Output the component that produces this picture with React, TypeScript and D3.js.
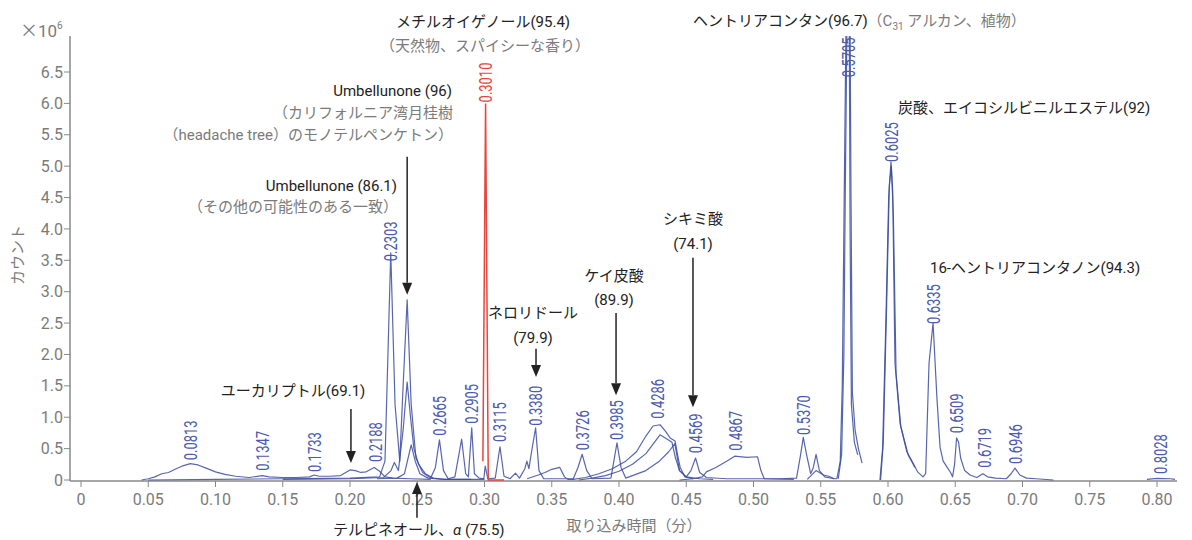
import React from "react";
import * as d3 from "d3";

// x tick values (minutes) and y tick values (counts, x10^6)
const xTicks = d3.range(0, 0.8001, 0.05);
const yTicks = d3.range(0, 6.5001, 0.5);

// chromatogram traces, [retention time, counts x10^6]
const traceHump: [number, number][] = [
  [0.045, 0], [0.05, 0.02], [0.055, 0.05], [0.06, 0.1], [0.065, 0.12], [0.07, 0.17],
  [0.075, 0.22], [0.0813, 0.26], [0.087, 0.24], [0.093, 0.19], [0.1, 0.13], [0.107, 0.09],
  [0.115, 0.06], [0.125, 0.04], [0.1347, 0.07], [0.14, 0.05], [0.15, 0.04], [0.16, 0.04],
  [0.17, 0.05], [0.1733, 0.08], [0.177, 0.06], [0.185, 0.06], [0.193, 0.07], [0.2, 0.16],
  [0.204, 0.15], [0.208, 0.12], [0.212, 0.13], [0.218, 0.2], [0.222, 0.14], [0.226, 0.05],
  [0.232, 0.03], [0.245, 0.02], [0.26, 0.01],
];

const traceMain: [number, number][] = [
  [0.05, 0], [0.1, 0.01], [0.15, 0.02], [0.2, 0.03], [0.222, 0.05], [0.226, 0.3],
  [0.2303, 3.62], [0.2335, 1.2], [0.237, 0.3], [0.2395, 1.5], [0.2425, 2.87], [0.2455, 1.2],
  [0.249, 0.35], [0.254, 0.12], [0.26, 0.03], [0.2635, 0.2], [0.2665, 0.64], [0.2695, 0.15],
  [0.273, 0.02], [0.278, 0.05], [0.283, 0.65], [0.286, 0.1], [0.288, 0.05], [0.2905, 0.83],
  [0.2925, 0.1], [0.296, 0.03], [0.2995, 0.02], [0.3005, 0.22], [0.3025, 0.02], [0.308, 0.03],
  [0.3115, 0.53], [0.3145, 0.06], [0.319, 0.02], [0.323, 0.11], [0.326, 0.03], [0.33, 0.18],
  [0.3315, 0.3], [0.333, 0.18], [0.335, 0.45], [0.338, 0.83], [0.3405, 0.15], [0.344, 0.02],
  [0.366, 0.02], [0.3695, 0.2], [0.3726, 0.41], [0.376, 0.15], [0.38, 0.02], [0.394, 0.03],
  [0.3985, 0.59], [0.4015, 0.2], [0.405, 0.03], [0.42, 0.15], [0.43, 0.3], [0.437, 0.45],
  [0.4415, 0.58], [0.445, 0.15], [0.45, 0.05], [0.4535, 0.15], [0.4569, 0.35], [0.46, 0.12],
  [0.465, 0.04], [0.48, 0.02], [0.52, 0.02], [0.532, 0.03], [0.535, 0.4], [0.537, 0.68],
  [0.5395, 0.4], [0.5425, 0.1], [0.5445, 0.2], [0.5465, 0.41], [0.549, 0.15], [0.553, 0.05],
  [0.56, 0.02], [0.562, 0.02], [0.5645, 0.3], [0.566, 1.5], [0.5672, 4.0], [0.5688, 7.3],
  [0.5718, 7.3], [0.5725, 4.5], [0.5735, 1.4], [0.5755, 0.8], [0.578, 0.5], [0.5807, 0.27],
];

const traceBigPeak: [number, number][] = [
  [0.563, 0.02], [0.5655, 0.4], [0.5672, 2.0], [0.5682, 4.5], [0.5695, 7.3], [0.5712, 7.3],
  [0.5718, 4.0], [0.5728, 1.2], [0.575, 0.6], [0.5775, 0.4],
];

const traceLate: [number, number][] = [
  [0.594, 0], [0.596, 0.5], [0.5985, 2.6], [0.6005, 4.5], [0.6022, 5.07], [0.6035, 4.6],
  [0.6052, 1.86], [0.609, 0.9], [0.614, 0.45], [0.6186, 0.27], [0.622, 0.13], [0.626, 0.05],
  [0.628, 0.1], [0.6305, 1.86], [0.6335, 2.5], [0.6364, 1.3], [0.6387, 0.52], [0.641, 0.3],
  [0.644, 0.2], [0.6465, 0.12], [0.648, 0.05], [0.6495, 0.25], [0.651, 0.67], [0.6525, 0.6],
  [0.654, 0.35], [0.657, 0.15], [0.661, 0.08], [0.666, 0.04], [0.6706, 0.1], [0.674, 0.05],
  [0.68, 0.03], [0.688, 0.02], [0.6915, 0.1], [0.6944, 0.19], [0.698, 0.08], [0.703, 0.03],
  [0.71, 0.02], [0.723, 0],
];

const traceLate2: [number, number][] = [
  [0.5945, 0], [0.5965, 0.6], [0.599, 2.8], [0.601, 4.7], [0.6025, 5.0], [0.604, 4.2],
  [0.606, 1.7], [0.6095, 0.85], [0.615, 0.4], [0.62, 0.2],
];

const traceSecond: [number, number][] = [
  [0.15, 0.01], [0.2, 0.02], [0.225, 0.04], [0.2305, 0.15], [0.233, 0.28], [0.236, 0.15],
  [0.2395, 0.8], [0.2425, 1.56], [0.245, 1.0], [0.2475, 0.5], [0.251, 0.25], [0.256, 0.1],
  [0.262, 0.03], [0.27, 0.01], [0.29, 0.01],
];

const traceThird: [number, number][] = [
  [0.22, 0.02], [0.235, 0.03], [0.2405, 0.1], [0.2455, 0.56], [0.2485, 0.3], [0.252, 0.1],
  [0.258, 0.03], [0.27, 0.01], [0.3, 0.01],
];

const traceBroad1: [number, number][] = [
  [0.3316, 0.02], [0.34, 0.08], [0.345, 0.12], [0.35, 0.17], [0.356, 0.2], [0.3595, 0.05],
  [0.362, 0.01], [0.366, 0.01], [0.375, 0.04], [0.385, 0.1], [0.395, 0.18], [0.405, 0.3],
  [0.413, 0.45], [0.42, 0.7], [0.4253, 0.86], [0.4305, 0.88], [0.4345, 0.78], [0.438, 0.67],
  [0.4417, 0.62], [0.444, 0.35], [0.4455, 0.2], [0.449, 0.05], [0.455, 0.02],
];

const traceBroad2: [number, number][] = [
  [0.37, 0], [0.38, 0.03], [0.39, 0.07], [0.4, 0.14], [0.41, 0.25], [0.42, 0.42],
  [0.4305, 0.72], [0.435, 0.66], [0.4394, 0.6], [0.442, 0.35], [0.445, 0.15], [0.45, 0.05],
  [0.46, 0.02], [0.47, 0.01],
];

const tracePlateau: [number, number][] = [
  [0.445, 0], [0.455, 0.02], [0.462, 0.05], [0.465, 0.13], [0.472, 0.2], [0.48, 0.3],
  [0.486, 0.38], [0.495, 0.36], [0.503, 0.37], [0.5055, 0.15], [0.508, 0.02], [0.53, 0.01],
];

const traceSmall: [number, number][] = [
  [0.54, 0.01], [0.5465, 0.15], [0.552, 0.08], [0.556, 0.06], [0.56, 0.02],
];

const traceTail: [number, number][] = [
  [0.7925, 0.01], [0.8, 0.025], [0.81, 0.02], [0.8134, 0.01],
];

const traceRed: [number, number][] = [
  [0.2988, 0.3], [0.3008, 6.0], [0.3028, 0], [0.3145, 0],
];

const blueTraces = [
  traceHump, traceMain, traceBigPeak, traceLate, traceLate2, traceSecond, traceThird,
  traceBroad1, traceBroad2, tracePlateau, traceSmall, traceTail,
];

// peak labels: retention time and the height where the label starts
const peakTimes = [
  0.0813, 0.1347, 0.1733, 0.2188, 0.2303, 0.2665, 0.2905, 0.3115, 0.338, 0.3726,
  0.3985, 0.4286, 0.4569, 0.4867, 0.537, 0.5705, 0.6025, 0.6335, 0.6509, 0.6719,
  0.6946, 0.8028,
];
const peakLabelY = [
  0.3, 0.13, 0.11, 0.27, 3.47, 0.69, 0.88, 0.59, 0.85, 0.46,
  0.62, 0.96, 0.41, 0.45, 0.7, 6.4, 5.05, 2.47, 0.73, 0.18,
  0.24, 0.08,
];
const redPeak = { t: 0.301, y: 6.0 };

// arrows: time, start height, tip height
const arrows: [number, number, number][] = [
  [0.2425, 5.15, 2.95],
  [0.2007, 1.13, 0.27],
  [0.2498, -0.6, -0.03],
  [0.3383, 2.09, 1.64],
  [0.3978, 2.66, 1.35],
  [0.455, 3.54, 1.16],
];

const W = 1192;
const H = 540;
const BLUE = "#3b4b9f";
const LABEL = "#4a5bb0";
const GREY = "#7b7b7b";
const BLACK = "#222";
const FONT = "Roboto, 'Noto Sans CJK JP', sans-serif";

export default function App() {
  const x = d3.scaleLinear().domain([0, 0.8]).range([81, 1157]);
  const y = d3.scaleLinear().domain([0, 6.5]).range([480, 72]);
  const line = d3
    .line<[number, number]>()
    .x((d) => x(d[0]))
    .y((d) => y(d[1]));

  const axisY = 481;
  const axisX = 70;

  const Arrow = ({ t, y0, y1 }: { t: number; y0: number; y1: number }) => {
    const px = x(t);
    const a = y(y0);
    const b = y(y1);
    const dir = b > a ? 1 : -1;
    const head = 12;
    return (
      <g>
        <line x1={px} y1={a} x2={px} y2={b - dir * head} stroke={BLACK} strokeWidth={1.5} />
        <path
          d={`M${px - 5},${b - dir * head} L${px + 5},${b - dir * head} L${px},${b} Z`}
          fill={BLACK}
        />
      </g>
    );
  };

  return (
    <div style={{ position: "absolute", left: 0, top: 0 }}>
      <svg width={W} height={H} style={{ display: "block", fontFamily: FONT }}>
        <defs>
          <clipPath id="plot">
            <rect x={axisX} y={36} width={1177 - axisX} height={axisY - 36} />
          </clipPath>
        </defs>

        {/* axes */}
        <line x1={axisX} y1={36} x2={axisX} y2={axisY} stroke="#888" strokeWidth={1.5} />
        <line x1={axisX} y1={axisY} x2={1177} y2={axisY} stroke="#888" strokeWidth={1.5} />
        {xTicks.map((t) => (
          <g key={"x" + t}>
            <line x1={x(t)} y1={axisY} x2={x(t)} y2={axisY + 6} stroke="#888" />
            <text x={x(t)} y={505} textAnchor="middle" fontSize={16} fill={GREY}>
              {t === 0 ? "0" : d3.format(".2f")(t)}
            </text>
          </g>
        ))}
        {yTicks.map((v) => (
          <g key={"y" + v}>
            <line x1={axisX - 6} y1={y(v)} x2={axisX} y2={y(v)} stroke="#888" />
            <text x={63} y={y(v)} dy="0.35em" textAnchor="end" fontSize={16} fill={GREY}>
              {v === 0 ? "0" : d3.format(".1f")(v)}
            </text>
          </g>
        ))}
        <text x={20} y={37} fontSize={17} fill={GREY}>
          <tspan fontFamily="'Noto Sans CJK JP'" fontSize={18}>×</tspan>10
          <tspan fontSize={10} dy={-8}>6</tspan>
        </text>
        <text
          transform="translate(23,255) rotate(-90)"
          textAnchor="middle"
          fontSize={15}
          fill={GREY}
        >
          カウント
        </text>
        <text x={634} y={531} textAnchor="middle" fontSize={15} fill={GREY}>
          取り込み時間（分）
        </text>

        {/* traces */}
        <g clipPath="url(#plot)">
          {blueTraces.map((tr, i) => (
            <path
              key={i}
              d={line(tr) || ""}
              fill="none"
              stroke={BLUE}
              strokeWidth={1.2}
              strokeOpacity={0.85}
              strokeLinejoin="round"
            />
          ))}
          <path d={line(traceRed) || ""} fill="none" stroke="#e8453c" strokeWidth={1.5} />
        </g>

        {/* peak labels */}
        {peakTimes.map((t, i) => (
          <text
            key={"p" + t}
            transform={`translate(${x(t)},${y(peakLabelY[i]) - 1}) rotate(-90) scale(0.72,1)`}
            dy="0.36em"
            fontSize={18}
            fill={LABEL}
          >
            {d3.format(".4f")(t)}
          </text>
        ))}
        <text
          transform={`translate(${x(redPeak.t)},${y(redPeak.y) - 1}) rotate(-90) scale(0.72,1)`}
          dy="0.36em"
          fontSize={18}
          fill="#e8453c"
        >
          {d3.format(".4f")(redPeak.t)}
        </text>

        {/* arrows */}
        {arrows.map(([t, y0, y1], i) => (
          <Arrow key={"a" + i} t={t} y0={y0} y1={y1} />
        ))}

        {/* annotations */}
        <g fontSize={15}>
          <text x={483} y={27} textAnchor="middle" fill={BLACK}>メチルオイゲノール(95.4)</text>
          <text x={485} y={51} textAnchor="middle" fill={GREY}>（天然物、スパイシーな香り）</text>

          <text x={452} y={96} textAnchor="end" fill={BLACK}>Umbellunone (96)</text>
          <text x={453} y={118} textAnchor="end" fill={GREY}>（カリフォルニア湾月桂樹</text>
          <text x={453} y={140} textAnchor="end" fill={GREY}>（headache tree）のモノテルペンケトン）</text>

          <text x={397} y={191} textAnchor="end" fill={BLACK}>Umbellunone (86.1)</text>
          <text x={398} y={212} textAnchor="end" fill={GREY}>（その他の可能性のある一致）</text>

          <text x={293} y={396} textAnchor="middle" fill={BLACK}>ユーカリプトル(69.1)</text>
          <text x={333} y={535} fill={BLACK}>
            テルピネオール、<tspan fontStyle="italic">α</tspan> (75.5)
          </text>

          <text x={533} y={318} textAnchor="middle" fill={BLACK}>ネロリドール</text>
          <text x={533} y={343} textAnchor="middle" fill={BLACK}>(79.9)</text>
          <text x={614} y={281} textAnchor="middle" fill={BLACK}>ケイ皮酸</text>
          <text x={614} y={305} textAnchor="middle" fill={BLACK}>(89.9)</text>
          <text x={693} y={224} textAnchor="middle" fill={BLACK}>シキミ酸</text>
          <text x={693} y={249} textAnchor="middle" fill={BLACK}>(74.1)</text>

          <text x={693} y={26} fill={BLACK}>
            ヘントリアコンタン(96.7)
            <tspan fill={GREY}>
              （C<tspan fontSize={10} dy={4}>31</tspan>
              <tspan dy={-4}> アルカン、植物）</tspan>
            </tspan>
          </text>
          <text x={898} y={113} fill={BLACK}>炭酸、エイコシルビニルエステル(92)</text>
          <text x={930} y={273} fill={BLACK}>16-ヘントリアコンタノン(94.3)</text>
        </g>
      </svg>
    </div>
  );
}
